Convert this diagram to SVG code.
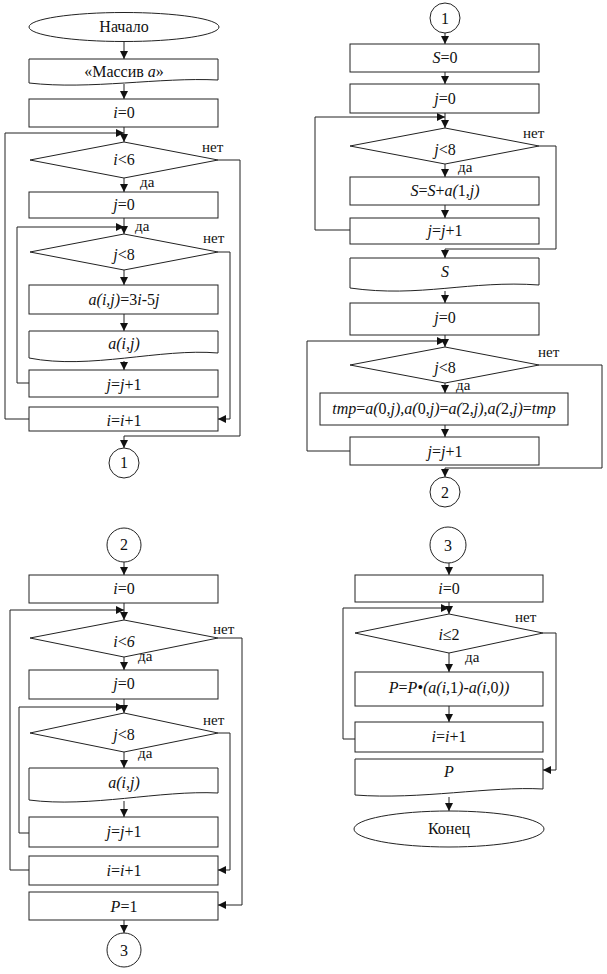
<svg xmlns="http://www.w3.org/2000/svg" width="607" height="974" viewBox="0 0 607 974">
<defs>
<marker id="ar" viewBox="0 0 8 8" refX="8" refY="4" markerWidth="8" markerHeight="8" markerUnits="userSpaceOnUse" orient="auto">
<path d="M0,0 L8,4 L0,8 z" fill="#111"/>
</marker>
<style>
.s{fill:#fff;stroke:#222;stroke-width:1}
.c{fill:none;stroke:#222;stroke-width:1;marker-end:url(#ar)}
text{font-family:'Liberation Serif','Times New Roman','DejaVu Serif',serif}
.t{font-size:16px;text-anchor:middle;fill:#111}
.v{font-style:italic}
.l{font-size:15px;fill:#111}
</style>
</defs>
<rect width="607" height="974" fill="#fff"/>
<g id="connectors">
<line class="c" x1="124" y1="42" x2="124" y2="59"/>
<line class="c" x1="124" y1="84" x2="124" y2="99"/>
<line class="c" x1="124" y1="127" x2="124" y2="142"/>
<polyline class="c" points="29,419 5,419 5,133 124,133"/>
<line class="c" x1="124" y1="178" x2="124" y2="192"/>
<line class="c" x1="124" y1="218" x2="124" y2="234"/>
<polyline class="c" points="29,383 17,383 17,227 124,227"/>
<line class="c" x1="124" y1="270" x2="124" y2="285"/>
<line class="c" x1="124" y1="314" x2="124" y2="331"/>
<line class="c" x1="124" y1="361" x2="124" y2="370"/>
<polyline class="c" points="218,160 240,160 240,436 124,436 124,448"/>
<polyline class="c" points="218,252 230,252 230,419 218,419"/>
<line class="c" x1="445" y1="33" x2="445" y2="44"/>
<line class="c" x1="445" y1="72" x2="445" y2="84"/>
<line class="c" x1="445" y1="113" x2="445" y2="128"/>
<polyline class="c" points="350,230 315,230 315,117 445,117"/>
<line class="c" x1="445" y1="164" x2="445" y2="177"/>
<line class="c" x1="445" y1="205" x2="445" y2="218"/>
<polyline class="c" points="539,146 556,146 556,249 445,249 445,258"/>
<line class="c" x1="445" y1="291" x2="445" y2="303"/>
<line class="c" x1="445" y1="335" x2="445" y2="347"/>
<polyline class="c" points="350,451 307,451 307,341 445,341"/>
<line class="c" x1="445" y1="383" x2="445" y2="393"/>
<line class="c" x1="445" y1="425" x2="445" y2="437"/>
<polyline class="c" points="539,365 602,365 602,468 445,468 445,477"/>
<line class="c" x1="124" y1="562" x2="124" y2="575"/>
<line class="c" x1="124" y1="603" x2="124" y2="620"/>
<polyline class="c" points="29,870 10,870 10,610 124,610"/>
<line class="c" x1="124" y1="657" x2="124" y2="670"/>
<line class="c" x1="124" y1="699" x2="124" y2="713"/>
<polyline class="c" points="29,833 19,833 19,707 124,707"/>
<line class="c" x1="124" y1="752" x2="124" y2="768"/>
<line class="c" x1="124" y1="801" x2="124" y2="817"/>
<polyline class="c" points="218,638 242,638 242,905 218,905"/>
<polyline class="c" points="218,733 230,733 230,870 218,870"/>
<line class="c" x1="124" y1="920" x2="124" y2="933"/>
<line class="c" x1="449" y1="563" x2="449" y2="575"/>
<line class="c" x1="449" y1="602" x2="449" y2="614"/>
<polyline class="c" points="355,739 343,739 343,608 449,608"/>
<line class="c" x1="449" y1="653" x2="449" y2="672"/>
<line class="c" x1="449" y1="706" x2="449" y2="722"/>
<polyline class="c" points="543,633 556,633 556,770 543,770"/>
<line class="c" x1="449" y1="797" x2="449" y2="811"/>
</g>

<g id="labels">
<text class="l" x="202" y="152">нет</text>
<text class="l" x="140" y="187">да</text>
<text class="l" x="135" y="231">да</text>
<text class="l" x="203" y="243">нет</text>
<text class="l" x="523" y="138">нет</text>
<text class="l" x="458" y="172">да</text>
<text class="l" x="538" y="357">нет</text>
<text class="l" x="456" y="390">да</text>
<text class="l" x="213" y="634">нет</text>
<text class="l" x="138" y="661">да</text>
<text class="l" x="203" y="725">нет</text>
<text class="l" x="138" y="758">да</text>
<text class="l" x="515" y="622">нет</text>
<text class="l" x="465" y="662">да</text>
</g>

<g id="start"><ellipse class="s" cx="124" cy="27" rx="95" ry="14.5"/><text class="t" x="124" y="32">Начало</text></g>
<g id="doc_massiv"><path class="s" d="M29,59 H218 V80 C160,77 90,90 29,83 Z"/><text class="t" x="124" y="77">«Массив <tspan class="v">a</tspan>»</text></g>
<g id="tl_i0"><rect class="s" x="29" y="99" width="189" height="28"/><text class="t" x="124" y="118"><tspan class="v">i</tspan>=0</text></g>
<g id="tl_cond_i"><polygon class="s" points="124,142 218,160 124,178 30,160"/><text class="t" x="124" y="165"><tspan class="v">i</tspan>&lt;6</text></g>
<g id="tl_j0"><rect class="s" x="29" y="192" width="189" height="26"/><text class="t" x="124" y="210"><tspan class="v">j</tspan>=0</text></g>
<g id="tl_cond_j"><polygon class="s" points="124,234 218,252 124,270 30,252"/><text class="t" x="124" y="260"><tspan class="v">j</tspan>&lt;8</text></g>
<g id="tl_assign"><rect class="s" x="29" y="285" width="189" height="29"/><text class="t" x="124" y="305"><tspan class="v">a(i,j)</tspan>=3<tspan class="v">i</tspan>-5<tspan class="v">j</tspan></text></g>
<g id="tl_out"><path class="s" d="M29,331 H218 V353 C160,348 90,370 29,358 Z"/><text class="t" x="124" y="349"><tspan class="v">a(i,j)</tspan></text></g>
<g id="tl_jinc"><rect class="s" x="29" y="370" width="189" height="27"/><text class="t" x="124" y="390"><tspan class="v">j</tspan>=<tspan class="v">j</tspan>+1</text></g>
<g id="tl_iinc"><rect class="s" x="29" y="407" width="189" height="24"/><text class="t" x="124" y="426"><tspan class="v">i</tspan>=<tspan class="v">i</tspan>+1</text></g>
<g id="tl_c1"><circle class="s" cx="124" cy="463" r="15"/><text class="t" x="124" y="468">1</text></g>

<g id="tr_c1"><circle class="s" cx="445" cy="18" r="15"/><text class="t" x="445" y="24">1</text></g>
<g id="tr_s0"><rect class="s" x="350" y="44" width="189" height="28"/><text class="t" x="445" y="63"><tspan class="v">S</tspan>=0</text></g>
<g id="tr_j0"><rect class="s" x="350" y="84" width="189" height="29"/><text class="t" x="445" y="104"><tspan class="v">j</tspan>=0</text></g>
<g id="tr_cond1"><polygon class="s" points="445,128 539,146 445,164 350,146"/><text class="t" x="445" y="155"><tspan class="v">j</tspan>&lt;8</text></g>
<g id="tr_sum"><rect class="s" x="350" y="177" width="189" height="28"/><text class="t" x="445" y="196"><tspan class="v">S</tspan>=<tspan class="v">S</tspan>+<tspan class="v">a(</tspan>1<tspan class="v">,j)</tspan></text></g>
<g id="tr_jinc1"><rect class="s" x="350" y="218" width="189" height="26"/><text class="t" x="445" y="236"><tspan class="v">j</tspan>=<tspan class="v">j</tspan>+1</text></g>
<g id="tr_outS"><path class="s" d="M350,258 H539 V285 C470,280 420,298 350,288 Z"/><text class="t" x="445" y="277"><tspan class="v">S</tspan></text></g>
<g id="tr_j0b"><rect class="s" x="350" y="303" width="189" height="32"/><text class="t" x="445" y="323"><tspan class="v">j</tspan>=0</text></g>
<g id="tr_cond2"><polygon class="s" points="445,347 539,365 445,383 350,365"/><text class="t" x="445" y="373"><tspan class="v">j</tspan>&lt;8</text></g>
<g id="tr_swap"><rect class="s" x="320" y="393" width="248" height="32"/><text class="t" x="444" y="414"><tspan class="v">tmp</tspan>=<tspan class="v">a(</tspan>0<tspan class="v">,j),a(</tspan>0<tspan class="v">,j)</tspan>=<tspan class="v">a(</tspan>2<tspan class="v">,j),a(</tspan>2<tspan class="v">,j)</tspan>=<tspan class="v">tmp</tspan></text></g>
<g id="tr_jinc2"><rect class="s" x="350" y="437" width="189" height="28"/><text class="t" x="445" y="457"><tspan class="v">j</tspan>=<tspan class="v">j</tspan>+1</text></g>
<g id="tr_c2"><circle class="s" cx="445" cy="492" r="15"/><text class="t" x="445" y="498">2</text></g>

<g id="bl_c2"><circle class="s" cx="124" cy="545" r="17"/><text class="t" x="124" y="550">2</text></g>
<g id="bl_i0"><rect class="s" x="29" y="575" width="189" height="28"/><text class="t" x="124" y="594"><tspan class="v">i</tspan>=0</text></g>
<g id="bl_cond_i"><polygon class="s" points="124,620 218,638 124,657 30,638"/><text class="t" x="124" y="647"><tspan class="v">i</tspan>&lt;<tspan class="v">6</tspan></text></g>
<g id="bl_j0"><rect class="s" x="29" y="670" width="189" height="29"/><text class="t" x="124" y="689"><tspan class="v">j</tspan>=0</text></g>
<g id="bl_cond_j"><polygon class="s" points="124,713 218,733 124,752 30,733"/><text class="t" x="124" y="740"><tspan class="v">j</tspan>&lt;8</text></g>
<g id="bl_out"><path class="s" d="M29,768 H218 V793 C160,790 90,808 29,800 Z"/><text class="t" x="124" y="788"><tspan class="v">a(i,j)</tspan></text></g>
<g id="bl_jinc"><rect class="s" x="29" y="817" width="189" height="30"/><text class="t" x="124" y="837"><tspan class="v">j</tspan>=<tspan class="v">j</tspan>+1</text></g>
<g id="bl_iinc"><rect class="s" x="29" y="856" width="189" height="29"/><text class="t" x="124" y="876"><tspan class="v">i</tspan>=<tspan class="v">i</tspan>+1</text></g>
<g id="bl_p1"><rect class="s" x="29" y="892" width="189" height="28"/><text class="t" x="124" y="912"><tspan class="v">P</tspan>=1</text></g>
<g id="bl_c3"><circle class="s" cx="124" cy="950" r="17"/><text class="t" x="124" y="956">3</text></g>

<g id="br_c3"><circle class="s" cx="448" cy="545" r="18"/><text class="t" x="448" y="551">3</text></g>
<g id="br_i0"><rect class="s" x="355" y="575" width="188" height="27"/><text class="t" x="449" y="594"><tspan class="v">i</tspan>=0</text></g>
<g id="br_cond"><polygon class="s" points="449,614 543,633 449,653 355,633"/><text class="t" x="449" y="640"><tspan class="v">i</tspan>≤2</text></g>
<g id="br_prod"><rect class="s" x="355" y="672" width="188" height="34"/><text class="t" x="449" y="693"><tspan class="v">P</tspan>=<tspan class="v">P</tspan>•<tspan class="v">(a(i,</tspan>1<tspan class="v">)-a(i,</tspan>0<tspan class="v">))</tspan></text></g>
<g id="br_iinc"><rect class="s" x="355" y="722" width="188" height="30"/><text class="t" x="449" y="742"><tspan class="v">i</tspan>=<tspan class="v">i</tspan>+1</text></g>
<g id="br_outP"><path class="s" d="M355,759 H543 V789 C490,786 420,800 355,795 Z"/><text class="t" x="449" y="777"><tspan class="v">P</tspan></text></g>
<g id="end"><ellipse class="s" cx="449" cy="829" rx="95" ry="18"/><text class="t" x="449" y="834">Конец</text></g>
</svg>
